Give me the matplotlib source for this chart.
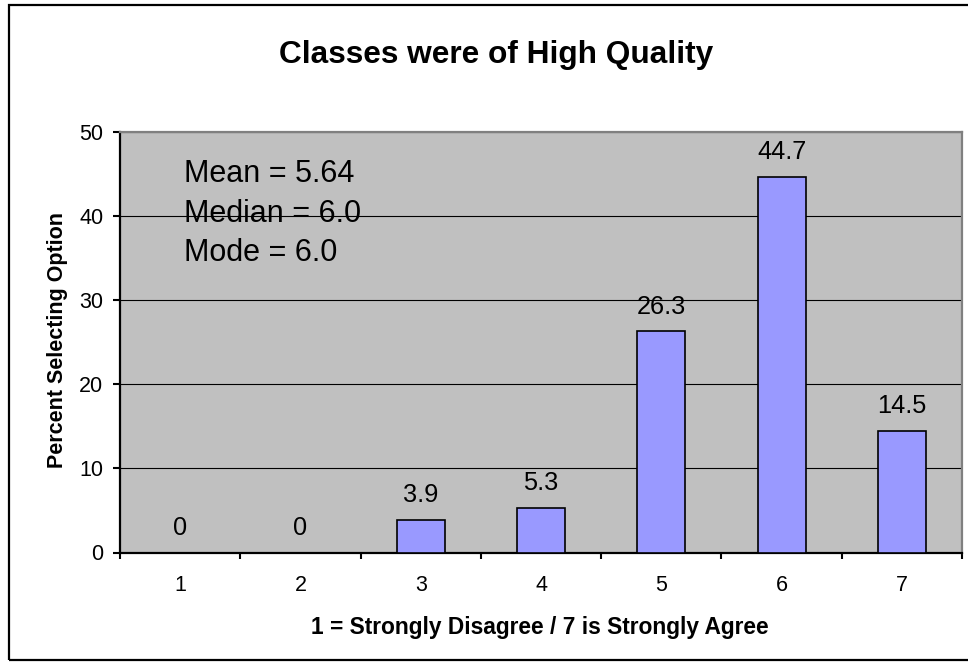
import matplotlib
matplotlib.use("Agg")
import matplotlib.pyplot as plt
from matplotlib.patches import Rectangle
import numpy as np

categories = ["1", "2", "3", "4", "5", "6", "7"]
values = [0, 0, 3.9, 5.3, 26.3, 44.7, 14.5]
value_labels = ["0", "0", "3.9", "5.3", "26.3", "44.7", "14.5"]
yticks = [0, 10, 20, 30, 40, 50]
stats_lines = ["Mean = 5.64", "Median = 6.0", "Mode = 6.0"]
stats_baselines = [44.1, 39.3, 34.7]
title = "Classes were of High Quality"
xlabel = "1 = Strongly Disagree / 7 is Strongly Agree"
ylabel = "Percent Selecting Option"

plt.rcParams['font.family'] = ['Liberation Sans', 'DejaVu Sans']

W, H = 968, 665
fig = plt.figure(figsize=(W / 100, H / 100), dpi=100)
fig.patch.set_facecolor('white')

# outer frame
fig.patches.append(Rectangle((8.5 / W, 1 - 660 / H), (975 - 8.5) / W, (660 - 5) / H,
                             transform=fig.transFigure, fill=False,
                             edgecolor='black', linewidth=1.6, zorder=0))

left, right, top, bottom = 120, 962, 132, 552.5
ax = fig.add_axes([left / W, 1 - bottom / H, (right - left) / W, (bottom - top) / H])
ax.set_facecolor('#C0C0C0')

x = np.arange(len(categories))
ax.bar(x, values, width=0.4, color='#9999FF', edgecolor='black', linewidth=1.2, zorder=3)

for xi, v, lab in zip(x, values, value_labels):
    ax.annotate(lab, (xi, v), xytext=(0, 12.7), textcoords='offset points',
                ha='center', va='baseline', fontsize=18.3, color='black', zorder=4)

ax.set_xlim(-0.5, len(categories) - 0.5)
ax.set_ylim(0, 50)
ax.set_yticks(yticks)
ax.set_yticklabels([str(t) for t in yticks], fontsize=15.5)
ax.yaxis.grid(True, color='black', linewidth=0.8, zorder=1)
ax.set_axisbelow(True)

ax.set_xticks(np.arange(len(categories) + 1) - 0.5)
ax.set_xticklabels([])
ax.set_xticks(x, minor=True)
ax.set_xticklabels(categories, minor=True, fontsize=15.5)
ax.tick_params(axis='x', which='major', direction='out', length=4.5, width=1.5, color='black')
ax.tick_params(axis='x', which='minor', length=0, pad=16)
ax.tick_params(axis='y', direction='out', length=5, width=1.5, pad=7)

for s in ['left', 'bottom']:
    ax.spines[s].set_color('black')
    ax.spines[s].set_linewidth(1.6)
for s in ['top', 'right']:
    ax.spines[s].set_color('#808080')
    ax.spines[s].set_linewidth(1.6)

for line, yb in zip(stats_lines, stats_baselines):
    ax.text(0.032, yb, line, ha='left', va='baseline', fontsize=22, color='black', zorder=5)

fig.text(496 / W, 1 - 63.3 / H, title, ha='center', va='baseline',
         fontsize=22.8, fontweight='bold')
fig.text(540 / W, 1 - 634 / H, xlabel, ha='center', va='baseline',
         fontsize=16.4, fontweight='bold')
fig.text(57 / W, 1 - 340 / H, ylabel, ha='center', va='center', rotation=90,
         fontsize=15.5, fontweight='bold')

fig.savefig('out.png', dpi=100)
